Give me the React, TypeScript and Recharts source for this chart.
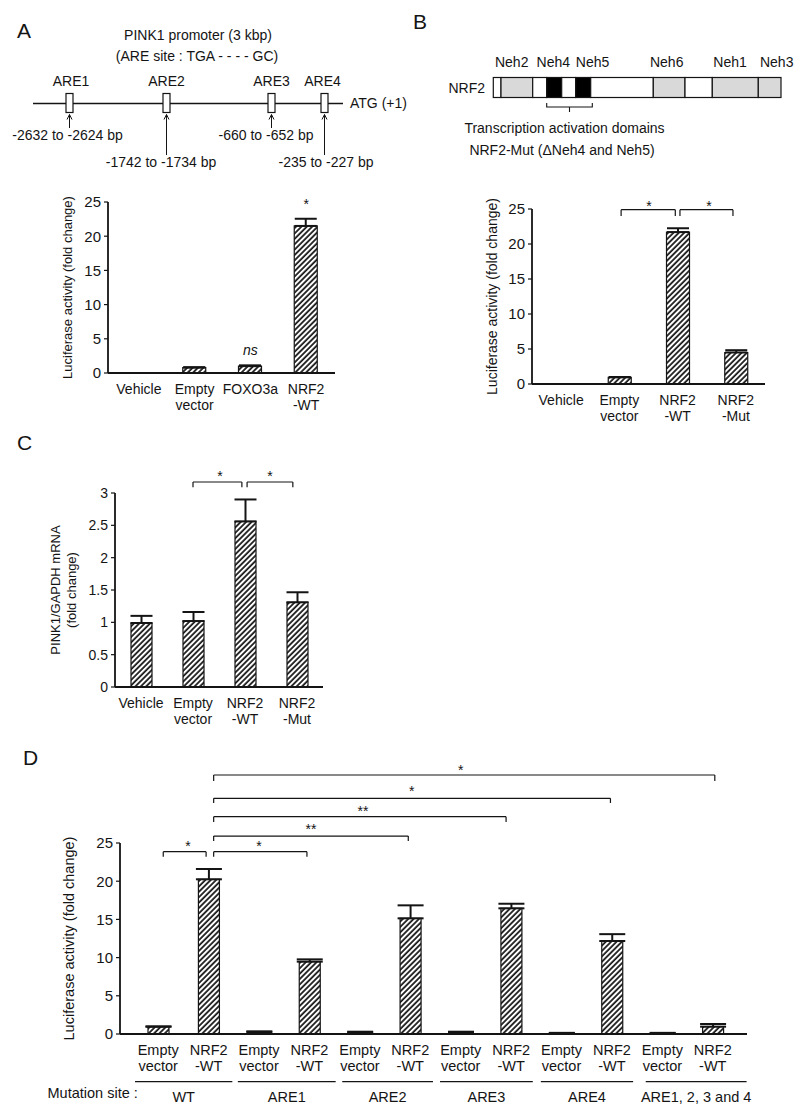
import React from 'react';
import { BarChart, Bar, XAxis, YAxis, ErrorBar, ReferenceLine, ReferenceDot } from 'recharts';

const FONT = '"Liberation Sans", Arial, Helvetica, sans-serif';
const INK = '#141414';

// ---------------- Panel A ----------------
const aLabels: string[][] = [['Vehicle'], ['Empty', 'vector'], ['FOXO3a'], ['NRF2', '-WT']];
const aValues = [0, 0.8, 1.0, 21.5];
const aErrors = [0, 0.05, 0.12, 1.05];
const aYTicks = [0, 5, 10, 15, 20, 25];
const aMarks = [
  { x: 2, y: 3.35, text: 'ns', italic: true },
  { x: 3, y: 24.7, text: '*', italic: false },
];
const areNames = ['ARE1', 'ARE2', 'ARE3', 'ARE4'];
const areRanges = ['-2632 to -2624 bp', '-1742 to -1734 bp', '-660 to -652 bp', '-235 to -227 bp'];

// ---------------- Panel B ----------------
const nehNames = ['Neh2', 'Neh4', 'Neh5', 'Neh6', 'Neh1', 'Neh3'];
const bLabels: string[][] = [['Vehicle'], ['Empty', 'vector'], ['NRF2', '-WT'], ['NRF2', '-Mut']];
const bValues = [0, 0.95, 21.7, 4.5];
const bErrors = [0, 0.05, 0.55, 0.33];
const bYTicks = [0, 5, 10, 15, 20, 25];
const bBrackets = [
  { from: 1.03, to: 1.96, top: 24.9, end: 24.0, star: '*', sx: 1.51, sy: 25.4 },
  { from: 2.04, to: 2.95, top: 24.9, end: 24.0, star: '*', sx: 2.54, sy: 25.4 },
];

// ---------------- Panel C ----------------
const cLabels: string[][] = [['Vehicle'], ['Empty', 'vector'], ['NRF2', '-WT'], ['NRF2', '-Mut']];
const cValues = [0.99, 1.02, 2.56, 1.31];
const cErrors = [0.11, 0.14, 0.34, 0.155];
const cYTicks = [0, 0.5, 1, 1.5, 2, 2.5, 3];
const cBrackets = [
  { from: 1.0, to: 1.94, top: 3.17, end: 3.09, star: '*', sx: 1.52, sy: 3.26 },
  { from: 2.04, to: 2.92, top: 3.17, end: 3.09, star: '*', sx: 2.48, sy: 3.26 },
];

// ---------------- Panel D ----------------
const dLabels: string[][] = [
  ['Empty', 'vector'], ['NRF2', '-WT'],
  ['Empty', 'vector'], ['NRF2', '-WT'],
  ['Empty', 'vector'], ['NRF2', '-WT'],
  ['Empty', 'vector'], ['NRF2', '-WT'],
  ['Empty', 'vector'], ['NRF2', '-WT'],
  ['Empty', 'vector'], ['NRF2', '-WT'],
];
const dValues = [0.95, 20.25, 0.25, 9.47, 0.2, 15.14, 0.2, 16.45, 0.1, 12.17, 0.1, 0.96];
const dErrors = [0.05, 1.35, 0.1, 0.3, 0.1, 1.7, 0.1, 0.6, 0.05, 0.9, 0.05, 0.35];
const dYTicks = [0, 5, 10, 15, 20, 25];
const dGroups = ['WT', 'ARE1', 'ARE2', 'ARE3', 'ARE4', 'ARE1, 2, 3 and 4'];
const dGroupFrom = [-0.46, 1.58, 3.65, 5.59, 7.59, 9.67];
const dGroupTo = [1.47, 3.52, 5.45, 7.43, 9.42, 11.67];
const dBrackets = [
  { from: 0.1, to: 0.95, top: 23.86, end: 23.2, star: '*', sx: 0.59, sy: 24.6 },
  { from: 1.1, to: 2.95, top: 23.86, end: 23.2, star: '*', sx: 2.0, sy: 24.6 },
  { from: 1.1, to: 4.96, top: 25.9, end: 25.26, star: '**', sx: 3.03, sy: 26.8 },
  { from: 1.1, to: 6.9, top: 28.44, end: 27.75, star: '**', sx: 4.06, sy: 29.2 },
  { from: 1.1, to: 8.97, top: 30.85, end: 30.24, star: '*', sx: 5.03, sy: 31.8 },
  { from: 1.1, to: 11.04, top: 33.9, end: 33.1, star: '*', sx: 6.0, sy: 34.6 },
];

const toRows = (values: number[], errors: number[]) =>
  values.map((v, i) => ({ x: i, value: v, err: [0, errors[i]] }));

const hatchDefs = (id: string) => (
  <defs>
    <pattern id={id} patternUnits="userSpaceOnUse" width={3.8} height={3.8} patternTransform="rotate(45)">
      <rect x={0} y={0} width={3.8} height={3.8} fill="#ffffff" />
      <line x1={1} y1={0} x2={1} y2={3.8} stroke="#000" strokeWidth={1.6} />
    </pattern>
  </defs>
);

const CatTick = (props: any) => {
  const { x, y, payload, labels, size } = props;
  const lines: string[] = labels[Math.round(payload.value)] || [];
  return (
    <text x={x} y={y} textAnchor="middle" fontSize={size} fill={INK} fontFamily={FONT}>
      {lines.map((t, i) => (
        <tspan key={i} x={x} dy={i === 0 ? 21 : 16}>{t}</tspan>
      ))}
    </text>
  );
};

const yAxisLabel = (lines: string[], xs: number[], size: number) => (props: any) => {
  const vb = props.viewBox || { x: 0, y: 0, width: 0, height: 0 };
  const cy = vb.y + vb.height / 2;
  return (
    <g>
      {lines.map((t, i) => (
        <text key={i} x={xs[i]} y={cy} transform={`rotate(-90 ${xs[i]} ${cy})`} textAnchor="middle"
          dy="0.35em" fontSize={size} fill={INK} fontFamily={FONT}>{t}</text>
      ))}
    </g>
  );
};

const bracketEls = (b: any, key: string, starSize: number) => [
  <ReferenceLine key={key + 't'} segment={[{ x: b.from, y: b.top }, { x: b.to, y: b.top }]} stroke={INK} strokeWidth={1.2} ifOverflow="visible" />,
  <ReferenceLine key={key + 'l'} segment={[{ x: b.from, y: b.top }, { x: b.from, y: b.end }]} stroke={INK} strokeWidth={1.2} ifOverflow="visible" />,
  <ReferenceLine key={key + 'r'} segment={[{ x: b.to, y: b.top }, { x: b.to, y: b.end }]} stroke={INK} strokeWidth={1.2} ifOverflow="visible" />,
  <ReferenceDot key={key + 's'} x={b.sx} y={b.sy} r={0} fill="none" stroke="none" ifOverflow="visible"
    label={{ value: b.star, position: 'center', fill: INK, fontSize: starSize }} />,
];

type PanelProps = {
  left: number; top: number; width: number; height: number;
  margin: any; yAxisWidth: number; xPadding: any; yDomain: number[]; yTicks: number[];
  labels: string[][]; rows: any[]; barSize: number; tickFont: number; catFont: number;
  yLabel: any; hatchId: string; capWidth: number; children?: any;
};

function Panel(p: PanelProps) {
  return (
    <div style={{ position: 'absolute', left: p.left, top: p.top, width: p.width, height: p.height }}>
      <BarChart width={p.width} height={p.height} data={p.rows} margin={p.margin}>
        {hatchDefs(p.hatchId)}
        <XAxis dataKey="x" type="number" domain={[-0.5, p.rows.length - 0.5]} allowDataOverflow
          ticks={p.rows.map((r) => r.x)} interval={0} padding={p.xPadding} height={30}
          axisLine={{ stroke: INK, strokeWidth: 1.8 }} tickLine={false} tickSize={0} tickMargin={0}
          tick={(tp: any) => <CatTick {...tp} labels={p.labels} size={p.catFont} />} />
        <YAxis type="number" domain={p.yDomain} allowDataOverflow ticks={p.yTicks} interval={0}
          width={p.yAxisWidth} axisLine={{ stroke: INK, strokeWidth: 1.8 }}
          tickLine={{ stroke: INK, strokeWidth: 1.2 }} tickSize={4} tickMargin={3}
          tick={{ fontSize: p.tickFont, fill: INK, fontFamily: FONT }} label={p.yLabel} />
        <Bar dataKey="value" barSize={p.barSize} fill={`url(#${p.hatchId})`} stroke={INK} strokeWidth={1.2}
          isAnimationActive={false}>
          <ErrorBar dataKey="err" direction="y" width={p.capWidth} stroke={INK} strokeWidth={2} isAnimationActive={false} />
        </Bar>
        {p.children}
      </BarChart>
    </div>
  );
}

// ---------- schematic layouts (pixel positions of the drawings) ----------
const areBoxX = [69.5, 166.5, 271.5, 324.5];
const areLabelX = [71, 166.5, 271.5, 322.5];
const areRangeX = [67.5, 161, 266, 326];
const areLong = [false, true, false, true];
const nrf2Edges = [493.3, 501, 532.7, 546.7, 561.7, 575.7, 590.7, 653.3, 685, 712.3, 758.3, 781];
const nrf2Fill = ['#fff', '#d9d9d9', '#fff', '#000', '#fff', '#000', '#fff', '#d9d9d9', '#fff', '#d9d9d9', '#d9d9d9'];
const nehX = [511.7, 553.3, 592.5, 666.7, 730, 776.7];

function Schematics() {
  return (
    <svg width={800} height={1117} style={{ position: 'absolute', left: 0, top: 0 }} fontFamily={FONT} fill={INK}>
      <text x={17} y={38} fontSize={21}>A</text>
      <text x={413} y={29} fontSize={21}>B</text>
      <text x={17} y={450} fontSize={21}>C</text>
      <text x={23} y={765} fontSize={21}>D</text>

      {/* promoter map */}
      <text x={198} y={40} textAnchor="middle" fontSize={14}>PINK1 promoter (3 kbp)</text>
      <text x={197} y={61} textAnchor="middle" fontSize={14}>(ARE site : TGA - - - - GC)</text>
      <line x1={33} y1={103.5} x2={343} y2={103.5} stroke={INK} strokeWidth={1.3} />
      <text x={350} y={108} fontSize={14}>ATG (+1)</text>
      {areNames.map((n, i) => (
        <g key={n}>
          <text x={areLabelX[i]} y={86} textAnchor="middle" fontSize={14}>{n}</text>
          <rect x={areBoxX[i] - 3.5} y={93.5} width={7} height={19} fill="#fff" stroke={INK} strokeWidth={1.2} />
          <line x1={areBoxX[i]} y1={114.5} x2={areBoxX[i]} y2={areLong[i] ? 155 : 128} stroke={INK} strokeWidth={1} />
          <path d={`M${areBoxX[i] - 2.5} 119.5 L${areBoxX[i]} 114.5 L${areBoxX[i] + 2.5} 119.5`} fill="none" stroke={INK} strokeWidth={1} />
          <text x={areRangeX[i]} y={areLong[i] ? 167 : 140} textAnchor="middle" fontSize={14}>{areRanges[i]}</text>
        </g>
      ))}

      {/* NRF2 domain map */}
      <text x={485} y={93} textAnchor="end" fontSize={14}>NRF2</text>
      {nrf2Fill.map((f, i) => (
        <rect key={i} x={nrf2Edges[i]} y={77.5} width={nrf2Edges[i + 1] - nrf2Edges[i]} height={20}
          fill={f} stroke={INK} strokeWidth={1.2} />
      ))}
      {nehNames.map((n, i) => (
        <text key={n} x={nehX[i]} y={67} textAnchor="middle" fontSize={14}>{n}</text>
      ))}
      <path d="M546.7 103 L546.7 107 L592.3 107 L592.3 103 M569.5 107 L569.5 112" fill="none" stroke={INK} strokeWidth={1.1} />
      <text x={564.5} y={133} textAnchor="middle" fontSize={14}>Transcription activation domains</text>
      <text x={562} y={155} textAnchor="middle" fontSize={14}>NRF2-Mut (ΔNeh4 and Neh5)</text>
    </svg>
  );
}

export default function App() {
  const aRows = toRows(aValues, aErrors);
  const bRows = toRows(bValues, bErrors);
  const cRows = toRows(cValues, cErrors);
  const dRows = toRows(dValues, dErrors);
  return (
    <div style={{ position: 'absolute', left: 0, top: 0, width: 800, height: 1117, background: '#fff', fontFamily: FONT, color: INK }}>
      <Schematics />

      <Panel left={40} top={175} width={320} height={245}
        margin={{ top: 27, right: 25, bottom: 17, left: 8 }} yAxisWidth={60} xPadding={{ left: 3, right: 1 }}
        yDomain={[0, 25]} yTicks={aYTicks} labels={aLabels} rows={aRows} barSize={23} tickFont={15} catFont={14}
        yLabel={yAxisLabel(['Luciferase activity (fold change)'], [27.5], 13)} hatchId="hatchA" capWidth={11}>
        {aMarks.map((m, i) => (
          <ReferenceDot key={'am' + i} x={m.x} y={m.y} r={0} fill="none" stroke="none" ifOverflow="visible"
            label={{ value: m.text, position: 'center', fill: INK, fontSize: 14, fontStyle: m.italic ? 'italic' : 'normal' }} />
        ))}
      </Panel>

      <Panel left={440} top={180} width={340} height={250}
        margin={{ top: 29, right: 15, bottom: 16, left: 12 }} yAxisWidth={80} xPadding={{ left: 0, right: 0 }}
        yDomain={[0, 25]} yTicks={bYTicks} labels={bLabels} rows={bRows} barSize={23} tickFont={15} catFont={14}
        yLabel={yAxisLabel(['Luciferase activity (fold change)'], [52], 14)} hatchId="hatchB" capWidth={11}>
        {bBrackets.map((b, i) => bracketEls(b, 'bb' + i, 14))}
      </Panel>

      <Panel left={0} top={455} width={340} height={290}
        margin={{ top: 38, right: 17, bottom: 28, left: 15 }} yAxisWidth={100} xPadding={{ left: 0, right: 0 }}
        yDomain={[0, 3]} yTicks={cYTicks} labels={cLabels} rows={cRows} barSize={21} tickFont={14} catFont={14}
        yLabel={yAxisLabel(['PINK1/GAPDH mRNA', '(fold change)'], [55, 71], 13)} hatchId="hatchC" capWidth={11}>
        {cBrackets.map((b, i) => bracketEls(b, 'cb' + i, 14))}
      </Panel>

      <Panel left={0} top={740} width={770} height={377}
        margin={{ top: 103, right: 23, bottom: 53, left: 20 }} yAxisWidth={100} xPadding={{ left: 13, right: 9 }}
        yDomain={[0, 25]} yTicks={dYTicks} labels={dLabels} rows={dRows} barSize={21} tickFont={15} catFont={14.5}
        yLabel={yAxisLabel(['Luciferase activity (fold change)'], [69], 14.5)} hatchId="hatchD" capWidth={13}>
        {dBrackets.map((b, i) => bracketEls(b, 'db' + i, 14))}
        {dGroups.map((g, i) => (
          <ReferenceLine key={'dg' + i} segment={[{ x: dGroupFrom[i], y: -6.24 }, { x: dGroupTo[i], y: -6.24 }]}
            stroke={INK} strokeWidth={1.2} ifOverflow="visible"
            label={{ value: g, position: 'bottom', offset: 10, fill: INK, fontSize: 14.5 }} />
        ))}
        <ReferenceDot x={-1.3} y={-7.7} r={0} fill="none" stroke="none" ifOverflow="visible"
          label={{ value: 'Mutation   site :', position: 'center', fill: INK, fontSize: 14.5 }} />
      </Panel>
    </div>
  );
}
